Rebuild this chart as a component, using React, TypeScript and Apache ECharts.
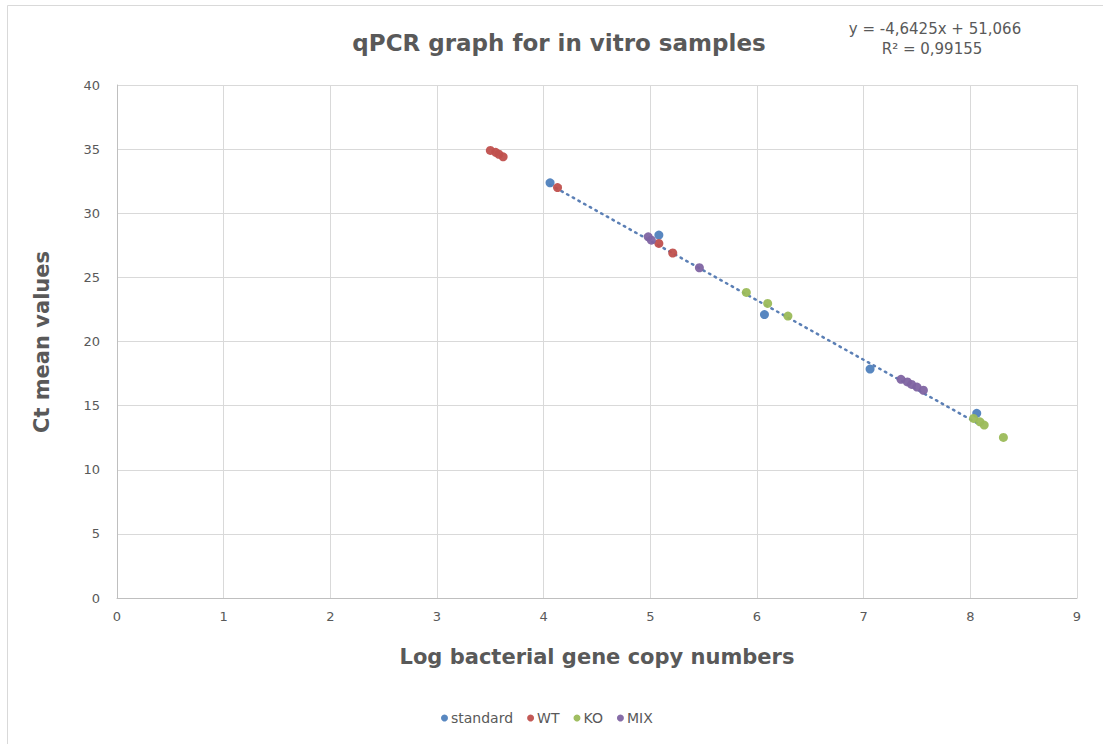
import React, { useEffect, useRef } from "react";
import * as echarts from "echarts";

const seriesNames = ["standard", "WT", "KO", "MIX"];
const seriesColors = ["#4F81BD", "#C0504D", "#9BBB59", "#8064A2"];

const standardPts = [[4.06, 32.37], [5.08, 28.3], [6.07, 22.1], [7.06, 17.85], [8.06, 14.4]];
const wtPts = [[3.5, 34.9], [3.55, 34.75], [3.58, 34.6], [3.62, 34.4], [4.13, 32.0], [5.08, 27.65], [5.21, 26.9]];
const koPts = [[5.9, 23.83], [6.1, 22.97], [6.29, 21.98], [8.03, 14.0], [8.09, 13.74], [8.13, 13.48], [8.31, 12.52]];
const mixPts = [[4.98, 28.16], [5.01, 27.9], [5.46, 25.75], [7.35, 17.05], [7.41, 16.85], [7.45, 16.65], [7.5, 16.45], [7.56, 16.2]];

const trendPts = [[4.06, 32.22], [8.06, 13.65]];

const titleText = "qPCR graph for in vitro samples";
const xAxisTitle = "Log bacterial gene copy numbers";
const yAxisTitle = "Ct mean values";
const eqLine1 = "y = -4,6425x + 51,066";
const eqLine2 = "R² = 0,99155";

const FONT = "'DejaVu Sans', 'Open Sans', sans-serif";
const GRAY = "#595959";

export default function App() {
  const ref = useRef<HTMLDivElement>(null);
  useEffect(() => {
    if (!ref.current) return;
    const chart = echarts.init(ref.current, undefined, { renderer: "svg" });
    const allData = [standardPts, wtPts, koPts, mixPts];
    chart.setOption({
      animation: false,
      backgroundColor: "#ffffff",
      grid: { left: 117, right: 26, top: 85, bottom: 146, containLabel: false },
      xAxis: {
        type: "value",
        min: 0,
        max: 9,
        interval: 1,
        axisLine: { show: true, onZero: false, lineStyle: { color: "#bfbfbf", width: 1 } },
        axisTick: { show: false },
        axisLabel: { color: GRAY, fontSize: 13, fontFamily: FONT, margin: 12 },
        splitLine: { show: true, lineStyle: { color: "#d9d9d9", width: 1 } },
      },
      yAxis: {
        type: "value",
        min: 0,
        max: 40,
        interval: 5,
        axisLine: { show: true, lineStyle: { color: "#bfbfbf", width: 1 } },
        axisTick: { show: false },
        axisLabel: { color: GRAY, fontSize: 13, fontFamily: FONT, margin: 17 },
        splitLine: { show: true, lineStyle: { color: "#d9d9d9", width: 1 } },
      },
      legend: {
        data: seriesNames.map((n) => ({ name: n, icon: "circle" })),
        top: 706,
        left: 436,
        itemWidth: 7,
        itemHeight: 7,
        itemGap: 14,
        textStyle: { color: GRAY, fontSize: 14, fontFamily: FONT, padding: [0, 0, 0, -2] },
      },
      series: [
        {
          type: "line",
          name: "trend",
          data: trendPts,
          symbol: "none",
          silent: true,
          z: 1,
          lineStyle: { color: "#5B7FB5", width: 2.5, type: [1.5, 5], cap: "round" },
        },
        ...seriesNames.map((n, i) => ({
          type: "scatter",
          name: n,
          data: allData[i],
          symbol: "circle",
          symbolSize: 9,
          z: 3,
          itemStyle: { color: seriesColors[i], opacity: 0.95 },
        })),
      ],
      graphic: [
        {
          type: "rect",
          shape: { x: 7.5, y: 5.5, width: 1200, height: 900 },
          style: { fill: "none", stroke: "#d9d9d9", lineWidth: 1 },
          silent: true,
        },
        {
          type: "text",
          x: 559,
          y: 43,
          style: { text: titleText, fontSize: 23, fontWeight: "bold", fill: GRAY, fontFamily: FONT, textAlign: "center", textVerticalAlign: "middle" },
        },
        {
          type: "text",
          x: 597,
          y: 657,
          style: { text: xAxisTitle, fontSize: 21, fontWeight: "bold", fill: GRAY, fontFamily: FONT, textAlign: "center", textVerticalAlign: "middle" },
        },
        {
          type: "text",
          x: 42,
          y: 342,
          rotation: Math.PI / 2,
          style: { text: yAxisTitle, fontSize: 21, fontWeight: "bold", fill: GRAY, fontFamily: FONT, textAlign: "center", textVerticalAlign: "middle" },
        },
        {
          type: "text",
          x: 935,
          y: 29,
          style: { text: eqLine1, fontSize: 15, fill: GRAY, fontFamily: FONT, textAlign: "center", textVerticalAlign: "middle" },
        },
        {
          type: "text",
          x: 932,
          y: 49,
          style: { text: eqLine2, fontSize: 15, fill: GRAY, fontFamily: FONT, textAlign: "center", textVerticalAlign: "middle" },
        },
      ],
    });
    return () => chart.dispose();
  }, []);
  return <div ref={ref} style={{ position: "absolute", left: 0, top: 0, width: 1103, height: 744 }} />;
}
